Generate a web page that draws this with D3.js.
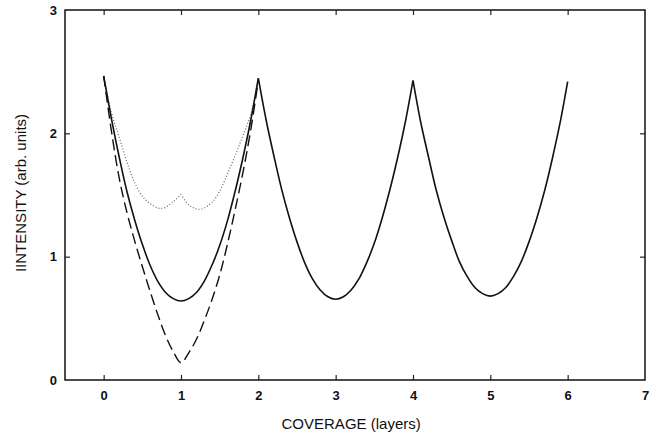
<!DOCTYPE html>
<html>
<head>
<meta charset="utf-8">
<script src="https://cdn.jsdelivr.net/npm/d3@7"></script>
<style>
  body { margin: 0; background: #fff; }
  svg { display: block; }
  .tick text { font-family: "Liberation Sans", Arial, sans-serif; font-size: 13px; font-weight: bold; fill: #111; }
  .tick line { stroke: #222; stroke-width: 1.2; }
  .title { font-family: "Liberation Sans", Arial, sans-serif; font-size: 15px; fill: #111; }
</style>
</head>
<body>
<div id="chart-area"></div>
<script>
// values, step 0.1 in coverage
const xSolid = d3.range(0, 61).map(i => i / 10);
const ySolid = [
  2.465, 2.12, 1.81, 1.53, 1.30, 1.10, 0.93, 0.80, 0.71, 0.66,
  0.64, 0.66, 0.71, 0.80, 0.93, 1.09, 1.29, 1.53, 1.80, 2.10,
  2.447, 2.11, 1.82, 1.55, 1.32, 1.12, 0.95, 0.82, 0.73, 0.675,
  0.655, 0.675, 0.73, 0.82, 0.95, 1.11, 1.31, 1.54, 1.80, 2.09,
  2.43, 2.09, 1.81, 1.54, 1.32, 1.13, 0.96, 0.84, 0.75, 0.70,
  0.68, 0.70, 0.75, 0.84, 0.96, 1.12, 1.31, 1.53, 1.79, 2.08,
  2.42
];

const xDotted = [0, 0.1, 0.2, 0.3, 0.4, 0.5, 0.6, 0.7, 0.75, 0.8, 0.9, 1.0,
  1.1, 1.2, 1.25, 1.3, 1.4, 1.5, 1.6, 1.7, 1.8, 1.9, 2.0];
const yDotted = [2.465, 2.17, 1.97, 1.77, 1.60, 1.49, 1.43, 1.395, 1.392, 1.40, 1.445, 1.506,
  1.42, 1.387, 1.385, 1.395, 1.44, 1.53, 1.67, 1.82, 1.98, 2.15, 2.447];

const xDashed = d3.range(0, 21).map(i => i / 10);
const yDashed = [
  2.465, 2.02, 1.64, 1.36, 1.13, 0.92, 0.72, 0.53, 0.36, 0.23,
  0.14, 0.22, 0.33, 0.48, 0.65, 0.85, 1.10, 1.38, 1.68, 2.02,
  2.43
];

const xTicks = [0, 1, 2, 3, 4, 5, 6, 7];
const yTicks = [0, 1, 2, 3];

const widthSvg = 657;
const heightSvg = 434;
const margin = { top: 10, right: 12, bottom: 54, left: 65 };
const widthChart = widthSvg - margin.left - margin.right;
const heightChart = heightSvg - margin.top - margin.bottom;

const scaleX = d3.scaleLinear()
  .domain([-0.5, 7])
  .range([0, widthChart]);

const scaleY = d3.scaleLinear()
  .domain([0, 3])
  .range([heightChart, 0]);

const fmt = d3.format('d');

const svg = d3.select('#chart-area')
  .append('svg')
    .attr('width', widthSvg)
    .attr('height', heightSvg);

const chart = svg.append('g')
  .attr('transform', `translate(${margin.left}, ${margin.top})`);

// inward ticks on all four sides, the 7 sits on the corner without a tick
chart.append('g')
  .attr('transform', `translate(0, ${heightChart})`)
  .call(d3.axisBottom(scaleX).tickValues(xTicks).tickFormat(fmt).tickSizeInner(-5).tickSizeOuter(0).tickPadding(11))
  .call(g => g.select('.domain').remove())
  .call(g => g.selectAll('.tick line').filter(d => d === 7).remove());

chart.append('g')
  .call(d3.axisTop(scaleX).tickValues(xTicks.filter(t => t < 7)).tickSizeInner(-5).tickSizeOuter(0).tickFormat(''))
  .call(g => g.select('.domain').remove());

chart.append('g')
  .call(d3.axisLeft(scaleY).tickValues(yTicks).tickFormat(fmt).tickSizeInner(-5).tickSizeOuter(0).tickPadding(8))
  .call(g => g.select('.domain').remove())
  .call(g => g.selectAll('.tick line').filter(d => d === 0 || d === 3).remove());

chart.append('g')
  .attr('transform', `translate(${widthChart}, 0)`)
  .call(d3.axisRight(scaleY).tickValues([1, 2]).tickSizeInner(-5).tickSizeOuter(0).tickFormat(''))
  .call(g => g.select('.domain').remove());

chart.append('rect')
  .attr('width', widthChart)
  .attr('height', heightChart)
  .attr('fill', 'none')
  .attr('stroke', '#111')
  .attr('stroke-width', 1.5);

// split a series into arches at its local maxima so the cusps stay sharp
const arches = (xs, ys) => {
  const pts = xs.map((x, i) => [x, ys[i]]);
  const out = [];
  let cur = [pts[0]];
  for (let i = 1; i < pts.length; i++) {
    cur.push(pts[i]);
    if (i < pts.length - 1 && ys[i] > ys[i - 1] && ys[i] > ys[i + 1]) {
      out.push(cur);
      cur = [pts[i]];
    }
  }
  out.push(cur);
  return out;
};

const line = d3.line()
  .x(d => scaleX(d[0]))
  .y(d => scaleY(d[1]))
  .curve(d3.curveCatmullRom.alpha(0.5));

const series = [
  { xs: xDotted, ys: yDotted, stroke: '#666', width: 1.2, dash: '1,2' },
  { xs: xDashed, ys: yDashed, stroke: '#111', width: 1.4, dash: '11,5' },
  { xs: xSolid, ys: ySolid, stroke: '#111', width: 1.6, dash: null }
];

series.forEach(s => {
  chart.append('path')
    .attr('d', arches(s.xs, s.ys).map(a => line(a)).join(''))
    .attr('fill', 'none')
    .attr('stroke', s.stroke)
    .attr('stroke-width', s.width)
    .attr('stroke-dasharray', s.dash)
    .attr('stroke-linejoin', 'miter');
});

chart.append('text')
  .attr('class', 'title')
  .attr('text-anchor', 'middle')
  .attr('x', scaleX(3.2))
  .attr('y', heightChart + 49)
  .text('COVERAGE (layers)');

chart.append('text')
  .attr('class', 'title')
  .attr('text-anchor', 'middle')
  .attr('transform', `translate(${-margin.left + 26}, ${heightChart / 2 - 2})rotate(-90)`)
  .text('IINTENSITY (arb. units)');
</script>
</body>
</html>
